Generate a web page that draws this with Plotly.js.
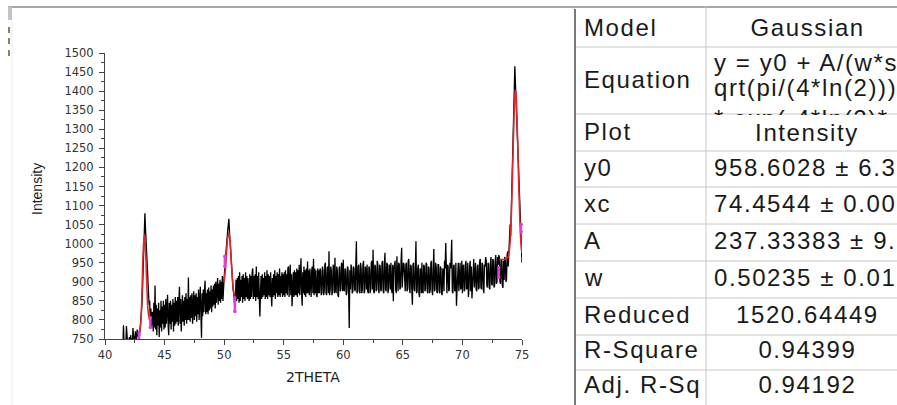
<!DOCTYPE html>
<html>
<head>
<meta charset="utf-8">
<script src="https://cdn.plot.ly/plotly-3.0.1.min.js"></script>
<style>html,body{margin:0;padding:0;background:#fff;}#chart{width:897px;height:405px;}</style>
</head>
<body>
<div id="chart"></div>
<script>
// ---------- DATA ----------
// XRD scan: 2THETA from 41.5 in steps of 0.05 degree (one line per degree)
const scanStart = 41.5;
const scanStep = 0.05;
const intensity = [
  728, 786, 740, 732, 745, 738, 784, 742, 736, 748,
  742, 755, 738, 760, 746, 752, 740, 779, 750, 758, 745, 770, 752, 748, 775, 756, 762, 770, 758, 780,
  785, 800, 840, 880, 950, 1000, 1045, 1080, 1040, 1000, 960, 920, 880, 860, 840, 850, 800, 830, 780, 820,
  820, 770, 845, 780, 890, 775, 840, 760, 830, 785, 845, 755, 825, 780, 850, 770, 835, 790, 850, 775,
  840, 780, 855, 790, 835, 866, 785, 760, 845, 790, 850, 775, 840, 795, 855, 770, 845, 785, 860, 790,
  850, 795, 860, 785, 845, 887, 790, 855, 770, 840, 865, 795, 850, 785, 860, 800, 870, 790, 855, 800,
  911, 800, 860, 795, 865, 805, 870, 790, 855, 875, 800, 865, 810, 870, 795, 860, 815, 880, 800, 865,
  887, 815, 753, 870, 810, 880, 820, 875, 903, 815, 870, 820, 880, 815, 885, 825, 875, 830, 890, 820,
  880, 835, 890, 840, 895, 830, 900, 845, 890, 910, 840, 895, 850, 905, 845, 900, 855, 915, 850, 905,
  910, 935, 960, 975, 990, 1010, 1035, 1050, 1065, 1030, 1000, 975, 950, 920, 900, 880, 870, 850, 830, 860,
  905, 850, 910, 855, 915, 845, 925, 850, 905, 860, 915, 845, 920, 855, 910, 850, 925, 860, 915, 855,
  910, 860, 850, 920, 855, 915, 860, 925, 935, 855, 915, 860, 920, 850, 940, 860, 915, 855, 925, 860,
  809, 875, 915, 855, 920, 860, 910, 865, 925, 855, 915, 860, 930, 855, 920, 865, 915, 860, 925, 870,
  835, 910, 860, 920, 865, 930, 855, 915, 870, 925, 860, 920, 865, 935, 860, 915, 870, 925, 860, 920,
  865, 925, 860, 930, 870, 920, 865, 935, 940, 860, 925, 945, 865, 920, 836, 915, 925, 860, 930, 865,
  925, 865, 935, 860, 930, 870, 945, 865, 930, 962, 870, 837, 925, 870, 940, 865, 930, 860, 935, 870,
  953, 870, 930, 865, 935, 870, 860, 930, 940, 870, 960, 865, 935, 870, 930, 865, 860, 935, 870, 930,
  870, 935, 930, 865, 870, 940, 930, 865, 875, 945, 950, 870, 865, 935, 940, 870, 980, 865, 880, 940,
  930, 865, 875, 945, 935, 870, 963, 880, 870, 940, 930, 865, 860, 935, 940, 875, 880, 950, 945, 875,
  958, 880, 875, 935, 930, 865, 870, 940, 935, 870, 779, 930, 880, 945, 935, 870, 875, 940, 935, 880,
  875, 945, 1006, 870, 875, 940, 945, 875, 870, 950, 935, 870, 880, 945, 955, 870, 875, 940, 930, 880,
  945, 875, 870, 940, 935, 870, 880, 950, 955, 880, 984, 875, 870, 945, 940, 875, 880, 955, 945, 880,
  870, 945, 940, 875, 880, 950, 955, 875, 870, 945, 976, 880, 875, 950, 945, 870, 880, 945, 940, 880,
  950, 880, 870, 945, 849, 935, 945, 955, 880, 870, 967, 885, 875, 950, 945, 880, 885, 955, 989, 885,
  930, 950, 945, 880, 875, 945, 950, 875, 880, 955, 960, 885, 870, 945, 940, 880, 840, 945, 950, 880,
  875, 940, 1006, 870, 875, 935, 945, 870, 860, 935, 930, 870, 950, 875, 870, 945, 940, 875, 880, 950,
  945, 875, 870, 940, 935, 870, 880, 950, 955, 875, 865, 935, 986, 875, 880, 950, 940, 875, 870, 945,
  945, 875, 870, 940, 935, 870, 865, 935, 930, 875, 955, 935, 1002, 875, 870, 945, 940, 875, 880, 950,
  935, 960, 1010, 875, 870, 940, 945, 875, 880, 950, 837, 880, 940, 950, 875, 940, 950, 880, 885, 955,
  870, 940, 945, 875, 880, 945, 955, 880, 885, 950, 860, 880, 940, 955, 875, 940, 856, 885, 945, 960,
  885, 945, 950, 880, 875, 940, 945, 880, 885, 955, 960, 885, 880, 950, 945, 880, 870, 945, 940, 965,
  955, 890, 885, 950, 945, 885, 880, 950, 965, 895, 890, 960, 955, 885, 890, 955, 970, 895, 900, 965,
  945, 970, 965, 900, 895, 960, 955, 890, 884, 955, 905, 965, 960, 900, 905, 970, 980, 940, 1000, 985,
  1050, 1020, 1090, 1120, 1180, 1240, 1300, 1400, 1465, 1420, 1380, 1340, 1310, 1250, 1190, 1140, 1100, 1075, 1060, 1020,
  950
];

// Gaussian fit curves
const fit1X = [42.9, 43.0, 43.1, 43.2, 43.3, 43.4, 43.5, 43.6, 43.7, 43.8];
const fit1Y = [770, 790, 870, 975, 1023, 985, 900, 830, 805, 795];
const fit2X = [50.0, 50.1, 50.2, 50.3, 50.4, 50.5, 50.6, 50.7, 50.8, 50.9];
const fit2Y = [900, 930, 975, 1015, 1028, 1005, 955, 905, 875, 860];
const fit3X = [73.1, 73.4, 73.6, 73.8, 73.9, 74.0, 74.1, 74.2, 74.3, 74.4, 74.45, 74.5, 74.6, 74.7, 74.8, 74.9, 75.0];
const fit3Y = [958.6, 958.6, 959, 963, 974, 1004, 1070, 1177, 1300, 1388, 1402, 1392, 1310, 1187, 1078, 1009, 976];

// fit-range end points (magenta)
const markX = [42.86, 42.86, null, 43.81, 43.81, null, 50.06, 50.06, null, 50.9, 50.9, null, 73.05, 73.05, null, 74.93, 74.93];
const markY = [766, 742, null, 806, 780, null, 967, 940, null, 858, 822, null, 937, 911, null, 1050, 1031];

// axis
const xTitle = "2THETA";
const yTitle = "Intensity";

// fit table
const tableLabels = ["Model", "Equation", "Plot", "y0", "xc", "A", "w", "Reduced", "R-Square", "Adj. R-Sq"];
const tableValues = ["Gaussian", "y = y0 + A/(w*s\nqrt(pi/(4*ln(2)))\n* exp(-4*ln(2)*", "Intensity",
  "958.6028 ± 6.3", "74.4544 ± 0.00", "237.33383 ± 9.", "0.50235 ± 0.01",
  "1520.64449", "0.94399", "0.94192"];
const centeredValue = [true, false, true, false, false, false, false, true, true, true];

// ---------- LAYOUT GEOMETRY (pixels) ----------
const PL = 105, PR = 522, PT = 53, PB = 339;
const PW = PR - PL, PH = PB - PT;
const px = v => (v - PL) / PW;
const py = v => (PB - v) / PH;

const rowLines = [7, 47, 114, 151, 187, 224, 261, 298, 335, 370, 405];
const labelY = [27, 79, 131, 167, 204, 240, 277, 314, 349, 384];
const tableLeft = 575, colDiv = 706, valueLeft = 712, valueCenter = 807;
const eqLineY = [62, 87, 118];

const xs = intensity.map((_, i) => +(scanStart + i * scanStep).toFixed(2));

const traces = [
  {x: xs, y: intensity, type: 'scatter', mode: 'lines', line: {color: '#000', width: 1.3}, hoverinfo: 'skip'},
  {x: fit1X, y: fit1Y, type: 'scatter', mode: 'lines', line: {color: '#e3242b', width: 1.6, shape: 'spline'}},
  {x: fit2X, y: fit2Y, type: 'scatter', mode: 'lines', line: {color: '#e3242b', width: 1.6, shape: 'spline'}},
  {x: fit3X, y: fit3Y, type: 'scatter', mode: 'lines', line: {color: '#e3242b', width: 1.6, shape: 'spline'}},
  {x: markX, y: markY, type: 'scatter', mode: 'lines+markers', cliponaxis: false,
   line: {color: '#e53be5', width: 2.5}, marker: {color: '#e53be5', size: 3.5}}
];

const shapes = [];
const annotations = [];
const grey = '#c8c8c8';
// top frame line and left artifacts
shapes.push({type: 'line', xref: 'paper', yref: 'paper', x0: px(8), x1: px(897), y0: py(7), y1: py(7), line: {color: '#a8a8a8', width: 2}});
shapes.push({type: 'line', xref: 'paper', yref: 'paper', x0: px(10), x1: px(10), y0: py(7), y1: py(20), line: {color: '#c4c4c4', width: 4}});
shapes.push({type: 'line', xref: 'paper', yref: 'paper', x0: px(12), x1: px(12), y0: py(20), y1: py(405), line: {color: '#ececec', width: 1}});
[[27, 33], [38, 44], [50, 56]].forEach(s => shapes.push({type: 'line', xref: 'paper', yref: 'paper', x0: px(9), x1: px(9), y0: py(s[0]), y1: py(s[1]), line: {color: '#8a8460', width: 2}}));
// table grid
rowLines.slice(1, -1).forEach(y => shapes.push({type: 'line', xref: 'paper', yref: 'paper', x0: px(tableLeft), x1: px(897), y0: py(y), y1: py(y), line: {color: grey, width: 1}}));
shapes.push({type: 'line', xref: 'paper', yref: 'paper', x0: px(colDiv), x1: px(colDiv), y0: py(7), y1: py(405), line: {color: grey, width: 1}});
shapes.push({type: 'line', xref: 'paper', yref: 'paper', x0: px(tableLeft), x1: px(tableLeft), y0: py(9), y1: py(405), line: {color: '#7a7a7a', width: 2}});

const tFont = {family: 'Liberation Sans', size: 24, color: '#1a1a1a'};
tableLabels.forEach((t, i) => annotations.push({text: t, xref: 'paper', yref: 'paper', x: px(582), y: py(labelY[i]), xanchor: 'left', align: 'left', yanchor: 'middle', showarrow: false, font: tFont}));
tableValues.forEach((t, i) => {
  if (i === 1) {
    t.split('\n').forEach((ln, k) => annotations.push({text: ln, xref: 'paper', yref: 'paper', x: px(valueLeft), y: py(eqLineY[k]), xanchor: 'left', align: 'left', yanchor: 'middle', showarrow: false, font: tFont}));
    return;
  }
  if (i === 2) {
    // Plot-row value cell drawn as an opaque box (hides the overflowing equation line)
    annotations.push({text: t, xref: 'paper', yref: 'paper', x: px(colDiv + 1), y: py(115), xanchor: 'left', yanchor: 'top', showarrow: false,
      font: tFont, bgcolor: '#ffffff', width: 2 * (valueCenter - colDiv - 1), height: 35, borderpad: 0, borderwidth: 0, align: 'center', valign: 'middle'});
    return;
  }
  annotations.push({text: t, xref: 'paper', yref: 'paper', x: px(centeredValue[i] ? valueCenter : valueLeft), y: py(labelY[i]),
    xanchor: centeredValue[i] ? 'center' : 'left', align: centeredValue[i] ? 'center' : 'left', yanchor: 'middle', showarrow: false, font: tFont});
});
const nTableAnn = annotations.length;
// axis titles
annotations.push({text: xTitle, xref: 'paper', yref: 'paper', x: px(313), y: py(377), xanchor: 'center', yanchor: 'middle', showarrow: false, font: {family: 'DejaVu Sans', size: 14, color: '#222'}});
annotations.push({text: yTitle, xref: 'paper', yref: 'paper', x: px(37), y: py(189), xanchor: 'center', yanchor: 'middle', textangle: -90, showarrow: false, font: {family: 'Liberation Sans', size: 14, color: '#222'}});

const axisCommon = {showgrid: false, zeroline: false, showline: true, linecolor: '#444', linewidth: 1,
  ticks: 'outside', ticklen: 5, tickwidth: 1, tickcolor: '#444', tickfont: {family: 'DejaVu Sans', size: 11.5, color: '#333'}};

const layout = {
  width: 897, height: 405,
  margin: {l: PL, r: 897 - PR, t: PT, b: 405 - PB, pad: 0},
  paper_bgcolor: '#fff', plot_bgcolor: '#fff',
  showlegend: false,
  font: {family: 'DejaVu Sans'},
  xaxis: Object.assign({}, axisCommon, {range: [40, 75], tick0: 40, dtick: 5,
    minor: {dtick: 2.5, ticks: 'outside', ticklen: 3, tickcolor: '#444'}}),
  yaxis: Object.assign({}, axisCommon, {range: [750, 1500], tick0: 750, dtick: 50, ticklabelstandoff: 3,
    minor: {dtick: 25, ticks: 'outside', ticklen: 3, tickcolor: '#444'}}),
  shapes: shapes,
  annotations: annotations
};

Plotly.newPlot('chart', traces, layout, {staticPlot: true, displayModeBar: false}).then(() => {
  // the table text in the reference is horizontally widened: add a little letter spacing
  const texts = document.querySelectorAll('#chart .annotation-text');
  texts.forEach((el, i) => { if (i < nTableAnn) el.style.letterSpacing = '1.6px'; });
});
</script>
</body>
</html>
